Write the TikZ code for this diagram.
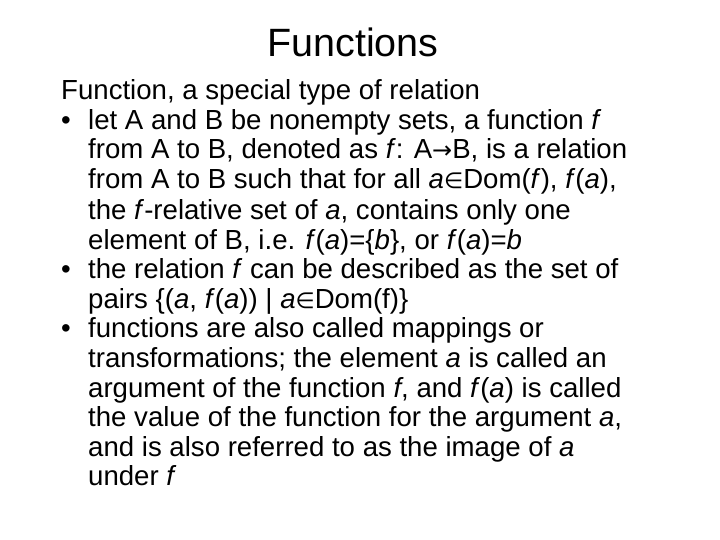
\documentclass[tikz,border=0pt]{standalone}
\usepackage{fontspec}
\setmainfont{Liberation Sans}
\newfontfamily\symf{DejaVu Sans}
\newcommand{\inn}{{\symf\fontsize{22}{22}\selectfont ∈}}
\newcommand{\arr}{{\symf\fontsize{24}{24}\selectfont →}}
\begin{document}
\begin{tikzpicture}[x=1pt,y=-1pt,
  ln/.style={anchor=base west,inner sep=0pt,font=\fontsize{27.6}{30}\selectfont}]
\useasboundingbox (0,0) rectangle (720,540);
\node[anchor=base,inner sep=0pt,font=\fontsize{39.5}{44}\selectfont] (title) at (353,57) {Functions};
\def\bx{61}\def\tx{88}
\node[ln] (l1) at (\bx,100) {Function, a special type of relation};
\node[ln] (b1) at (\bx,130) {•};
\node[ln] (l2) at (\tx,130) {let A and B be nonempty sets, a function \textit{f}};
\node[ln] (l3) at (\tx,159) {from A to B, denoted as \textit{f}: A\arr B, is a relation};
\node[ln] (l4) at (\tx,189) {from A to B such that for all \textit{a}\inn Dom(\textit{f}), \textit{f}(\textit{a}),};
\node[ln] (l5) at (\tx,219) {the \textit{f}-relative set of \textit{a}, contains only one};
\node[ln] (l6) at (\tx,249) {element of B, i.e. \textit{f}(\textit{a})=\{\textit{b}\}, or \textit{f}(\textit{a})=\textit{b}};
\node[ln] (b2) at (\bx,278) {•};
\node[ln] (l7) at (\tx,278) {the relation \textit{f} can be described as the set of};
\node[ln] (l8) at (\tx,308) {pairs \{(\textit{a}, \textit{f}(\textit{a})) | \textit{a}\inn Dom(f)\}};
\node[ln] (b3) at (\bx,337) {•};
\node[ln] (l9) at (\tx,337) {functions are also called mappings or};
\node[ln] (l10) at (\tx,367) {transformations; the element \textit{a} is called an};
\node[ln] (l11) at (\tx,397) {argument of the function \textit{f}, and \textit{f}(\textit{a}) is called};
\node[ln] (l12) at (\tx,426) {the value of the function for the argument \textit{a},};
\node[ln] (l13) at (\tx,456) {and is also referred to as the image of \textit{a}};
\node[ln] (l14) at (\tx,485) {under \textit{f}};
\end{tikzpicture}
\end{document}
